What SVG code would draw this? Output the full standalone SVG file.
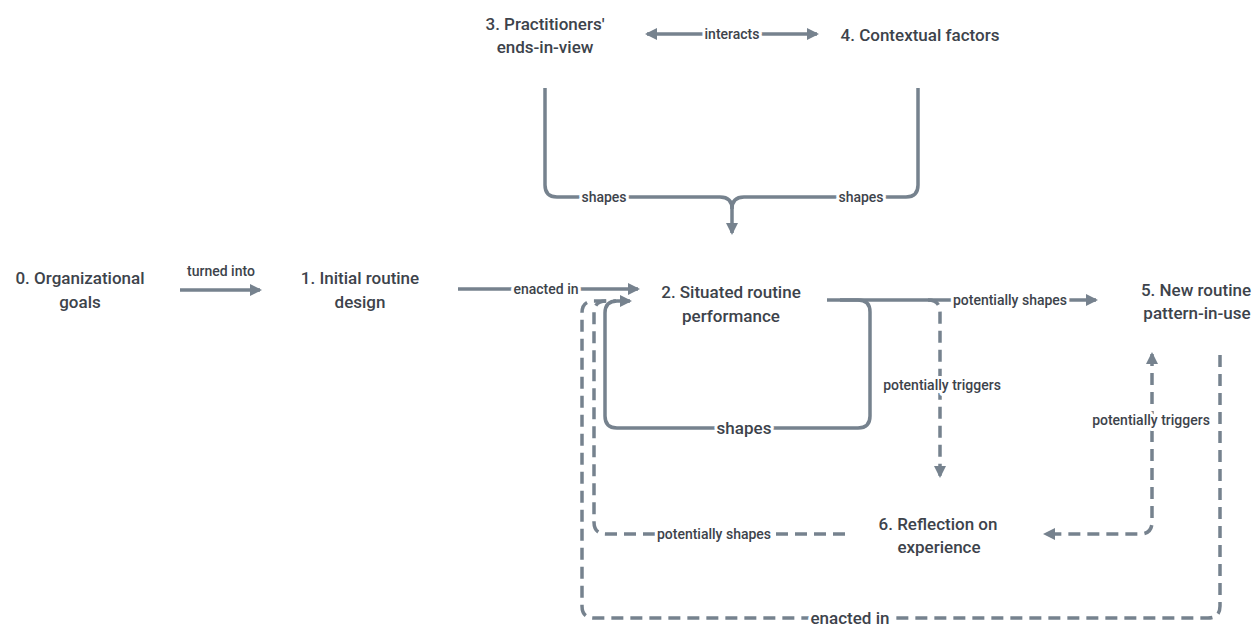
<svg xmlns="http://www.w3.org/2000/svg" width="1257" height="632" viewBox="0 0 1257 632">
<style>
.node{font-family:Roboto,"Liberation Sans",sans-serif;font-weight:500;font-size:17px;fill:#3d434b;text-anchor:middle}
.lbl{font-family:Roboto,"Liberation Sans",sans-serif;font-weight:500;font-size:14px;fill:#3d434b;text-anchor:middle;stroke:#fff;stroke-width:6px;paint-order:stroke;stroke-linejoin:round}
.big{font-size:17px}
.ln{fill:none;stroke:#76828e;stroke-width:3.5}
.dash{stroke-dasharray:12 7}
.arr{marker-end:url(#ah)}
</style>
<defs>
<marker id="ah" viewBox="0 0 12 12" refX="10" refY="6" markerWidth="12" markerHeight="12" markerUnits="userSpaceOnUse" orient="auto-start-reverse">
<path d="M0,0 L12,6 L0,12 z" fill="#76828e"/>
</marker>
</defs>
<rect width="1257" height="632" fill="#fff"/>
<g id="connectors">
<path class="ln" d="M647,34 H817" marker-start="url(#ah)" marker-end="url(#ah)"/>
<path class="ln" d="M545,88 V185 Q545,197 557,197 H720 Q732,197 732,209 V233" marker-end="url(#ah)"/>
<path class="ln" d="M918,88 V185 Q918,197 906,197 H744 Q732,197 732,209"/>
<path class="ln arr" d="M180,290 H260"/>
<path class="ln arr" d="M458,289 H638"/>
<path class="ln dash" d="M1220,355 V606 Q1220,618 1208,618 H594 Q582,618 582,606 V313 Q582,301 594,301 H612"/>
<path class="ln dash" d="M845,534 H606 Q594,534 594,522 V313 Q594,301 606,301 H616"/>
<path class="ln arr" d="M840,300 H858 Q870,300 870,312 V416 Q870,428 858,428 H617 Q605,428 605,416 V313 Q605,301 617,301 H630"/>
<path class="ln arr" d="M827,300 H1096"/>
<path class="ln dash arr" d="M928,300 Q940,300 940,312 V476"/>
<path class="ln dash" d="M1152,354 V522 Q1152,534 1140,534 H1045" marker-start="url(#ah)" marker-end="url(#ah)"/>
<text class="lbl" x="732" y="39">interacts</text>
<text class="lbl" x="604" y="202">shapes</text>
<text class="lbl" x="861" y="202">shapes</text>
<text class="lbl" x="221" y="276" style="stroke:none">turned into</text>
<text class="lbl" x="546" y="294">enacted in</text>
<text class="lbl" x="1010" y="305">potentially shapes</text>
<text class="lbl big" x="744" y="434">shapes</text>
<text class="lbl" x="942" y="390">potentially triggers</text>
<text class="lbl" x="1151" y="425">potentially triggers</text>
<text class="lbl" x="714" y="539">potentially shapes</text>
<text class="lbl big" x="850" y="624">enacted in</text>
</g>
<g id="n0"><text class="node" x="80" y="284">0. Organizational</text><text class="node" x="80" y="308">goals</text></g>
<g id="n1"><text class="node" x="360" y="284">1. Initial routine</text><text class="node" x="360" y="308">design</text></g>
<g id="n2"><text class="node" x="731" y="298">2. Situated routine</text><text class="node" x="731" y="322">performance</text></g>
<g id="n3"><text class="node" x="545" y="30">3. Practitioners'</text><text class="node" x="545" y="53">ends-in-view</text></g>
<g id="n4"><text class="node" x="920" y="41">4. Contextual factors</text></g>
<g id="n5"><text class="node" x="1196" y="296">5. New routine</text><text class="node" x="1197" y="319">pattern-in-use</text></g>
<g id="n6"><text class="node" x="938" y="530">6. Reflection on</text><text class="node" x="939" y="553">experience</text></g>
</svg>
